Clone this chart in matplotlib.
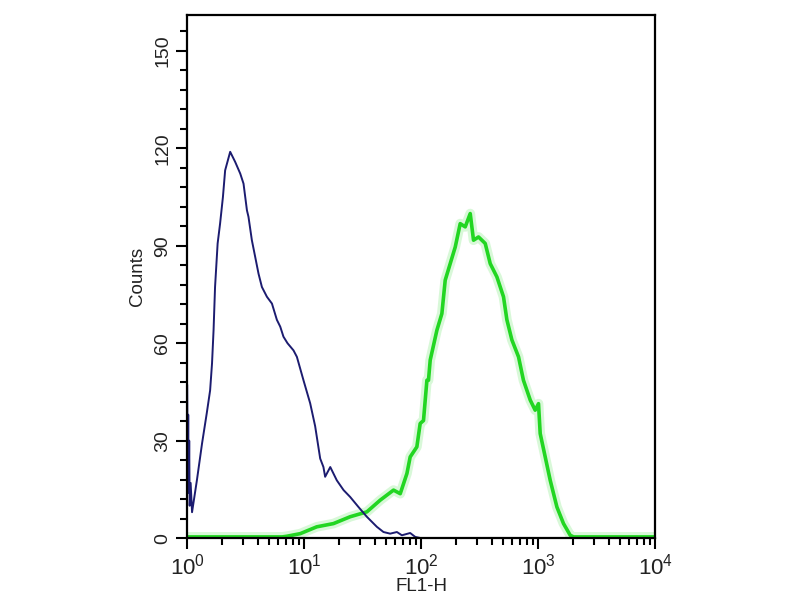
import numpy as np
import matplotlib
matplotlib.use("Agg")
import matplotlib.pyplot as plt
from matplotlib.ticker import LogLocator, MultipleLocator, NullFormatter

plt.rcParams['font.family'] = ['Liberation Sans', 'DejaVu Sans']
plt.rcParams['mathtext.fontset'] = 'custom'
plt.rcParams['mathtext.rm'] = 'Liberation Sans'

# control (isotype) histogram
ctrl_fl1 = [1.00, 1.01, 1.02, 1.03, 1.04, 1.05, 1.07, 1.10, 1.21, 1.34, 1.47, 1.57,
            1.63, 1.68, 1.73, 1.82, 1.91, 2.02, 2.11, 2.33, 2.57, 2.84, 3.03, 3.24,
            3.34, 3.57, 3.81, 4.07, 4.35, 4.80, 5.30, 5.84, 6.24, 6.65, 7.2, 8.1,
            8.66, 9.86, 11.25, 12.4, 13.7, 14.6, 15.1, 16.7, 19.0, 21.7, 24.7, 29.1,
            34.3, 41.8, 47.6, 54.3, 62.0, 68.4, 80.5, 88.9, 100, 10000]
ctrl_counts = [47, 18, 38, 14, 30, 10, 17, 8, 17.8, 29.2, 38.5, 45.5,
               53.8, 64, 77.3, 90.7, 96.8, 105, 113.2, 118.9, 115.8, 112.2, 109.1, 100.9,
               98.9, 91.7, 86.6, 81.4, 77.3, 74.3, 72.2, 67.2, 65.1, 62, 60, 57.8,
               55.8, 48.6, 41.5, 34.5, 24.5, 21.9, 18.9, 21.9, 17.8, 14.8, 12.7, 9.6,
               6.6, 3.5, 1.9, 1.4, 1.9, 0.9, 1.6, 0.4, 0, 0]

# antibody stained histogram
stain_fl1 = [1.00, 6.5, 7.11, 9.25, 12.8, 17.8, 24.7, 34.3, 44.6, 58.0, 66.2, 75.5,
             80.5, 91.8, 98.0, 104.6, 111.9, 115.4, 119.4, 136.2, 150.2, 160.4, 177,
             195.4, 215.5, 237.8, 262.4, 280, 309, 352.5, 389, 443.6, 505, 540, 596,
             679, 748, 855, 942, 1006, 1040, 1148, 1267, 1445, 1645, 1878, 2005, 10000]
stain_counts = [0.4, 0.4, 0.6, 1.4, 3.5, 4.5, 6.6, 8.1, 11.7, 14.8, 13.7, 19.9,
                25, 28.1, 35.3, 36.2, 48.6, 48.6, 54.8, 64, 69.1, 79.4, 84.5,
                89.6, 96.8, 95.8, 99.9, 91.7, 92.7, 90.7, 84.5, 80.4, 74.3, 67.2, 61,
                55.8, 48.6, 42.5, 39.4, 41.4, 32.2, 25, 17.8, 9.6, 4.5, 0.9, 0.4, 0.4]

fig = plt.figure(figsize=(8, 6), dpi=100)
ax = fig.add_axes([0.234, 0.103, 0.585, 0.872])

# green with a soft halo, like the scanned original
ax.plot(stain_fl1, stain_counts, color='#b2f2b2', lw=7, alpha=0.5, solid_joinstyle='round')
ax.plot(stain_fl1, stain_counts, color='#22d622', lw=2.6)
ax.plot(ctrl_fl1, ctrl_counts, color='#1c1c70', lw=1.4)

ax.set_xscale('log')
ax.set_xlim(1, 10000)
ax.set_ylim(0, 161)

ax.xaxis.set_major_locator(LogLocator(base=10, numticks=10))
ax.xaxis.set_minor_locator(LogLocator(base=10, subs=np.arange(2, 10), numticks=20))
ax.xaxis.set_minor_formatter(NullFormatter())
ax.yaxis.set_major_locator(MultipleLocator(30))
ax.yaxis.set_minor_locator(MultipleLocator(6))

ax.tick_params(which='both', direction='out', top=False, right=False, width=1.5, colors='black')
ax.tick_params(which='major', length=8)
ax.tick_params(which='minor', length=5)
ax.tick_params(axis='x', labelsize=16, pad=3, labelcolor='#222222')
ax.tick_params(axis='y', labelsize=14, labelcolor='#222222')
for lab in ax.get_yticklabels():
    lab.set_rotation(90)
    lab.set_va('center')

for sp in ax.spines.values():
    sp.set_linewidth(1.6)

ax.set_xlabel('FL1-H', fontsize=13.5, labelpad=-1, color='#222222')
ax.set_ylabel('Counts', fontsize=13.5, labelpad=6, color='#222222')

fig.savefig('out.png', dpi=100)
